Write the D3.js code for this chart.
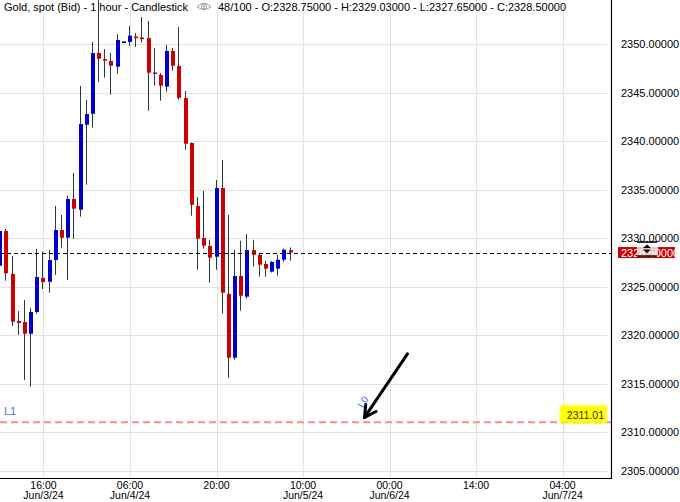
<!DOCTYPE html>
<html><head><meta charset="utf-8">
<script src="https://cdn.jsdelivr.net/npm/d3@7"></script>
<style>
html,body{margin:0;padding:0;background:#fff;}
svg{display:block;font-family:"Liberation Sans",Arial,sans-serif;}
</style></head>
<body><svg id="c" width="680" height="502"></svg>
<script>
// ---- data ----
const startTime = "2024-06-03T09:00";   // first candle (1 hour bars)
const opens  = [2327.14,2330.72,2326.29,2321.44,2321.34,2320.13,2322.37,2325.88,2325.49,2327.73,2330.82,2330.03,2334.02,2332.92,2341.68,2342.81,2349.07,2348.45,2348.25,2347.66,2350.18,2350.21,2350.72,2350.62,2350.62,2347.04,2346.80,2345.60,2349.28,2347.73,2344.43,2339.79,2333.30,2330.00,2329.18,2328.07,2335.15,2324.23,2317.66,2326.08,2323.95,2328.76,2328.25,2327.32,2326.53,2326.84,2327.76,2328.75];
const highs  = [2331.16,2330.93,2328.14,2322.47,2323.61,2322.81,2328.87,2328.59,2328.76,2333.30,2332.37,2334.33,2336.70,2345.67,2344.23,2350.21,2355.00,2349.48,2349.10,2351.03,2350.25,2351.86,2351.13,2352.78,2352.37,2349.59,2347.01,2349.90,2349.59,2351.75,2345.15,2339.85,2334.23,2334.85,2329.82,2335.98,2338.04,2332.37,2328.79,2329.72,2330.41,2329.82,2328.38,2327.66,2327.60,2328.28,2328.90,2329.03];
const lows   = [2326.11,2325.60,2320.93,2320.00,2315.36,2314.67,2322.20,2324.74,2324.36,2326.19,2329.00,2325.67,2329.90,2332.20,2335.49,2341.37,2346.11,2346.53,2344.77,2346.94,2350.12,2349.79,2349.69,2350.14,2343.12,2345.70,2344.15,2345.08,2347.25,2344.26,2339.10,2332.30,2326.73,2328.90,2325.39,2326.73,2322.20,2315.60,2317.45,2322.51,2323.74,2327.04,2326.01,2326.01,2326.45,2326.11,2327.56,2327.65];
const closes = [2330.72,2326.36,2321.37,2321.24,2320.13,2322.37,2325.98,2325.46,2327.73,2330.82,2330.03,2334.02,2333.02,2341.75,2342.78,2349.07,2348.48,2348.28,2347.76,2350.41,2350.18,2350.86,2350.65,2350.55,2347.04,2346.94,2345.70,2349.28,2347.76,2344.46,2339.72,2333.43,2329.93,2329.21,2327.97,2335.15,2324.36,2317.66,2326.08,2324.05,2328.76,2328.28,2327.25,2326.84,2327.53,2327.76,2328.79,2328.50];

const yTicks = [2305,2310,2315,2320,2325,2330,2335,2340,2345,2350];
const xTickTimes = ["2024-06-03T16:00","2024-06-04T06:00","2024-06-04T20:00","2024-06-05T10:00","2024-06-06T00:00","2024-06-06T14:00","2024-06-07T04:00"];
const xTickHour  = ["16:00","06:00","20:00","10:00","00:00","14:00","04:00"];
const xTickDate  = ["Jun/3/24","Jun/4/24","","Jun/5/24","Jun/6/24","","Jun/7/24"];

const levelL1 = 2311.01;
const lastPrice = 2328.50;
const arrowFrom = {t:"2024-06-06T02:54", p:2318.05};
const arrowTo   = {t:"2024-06-05T19:57", p:2311.50};
const header1 = "Gold, spot (Bid) - 1 hour - Candlestick";
const header2 = "48/100 - O:2328.75000 - H:2329.03000 - L:2327.65000 - C:2328.50000";

// ---- layout ----
const plotR = 611, plotB = 478;
const svg = d3.select("#c");
const x = d3.scaleTime()
  .domain([new Date("2024-06-03T08:58"), new Date("2024-06-07T11:50")])
  .range([0, plotR]);
const y = d3.scaleLinear().domain([2310, 2350]).range([432, 44]);
const yPos = v => Math.min(y(v), plotB - 7.5);

const t0 = new Date(startTime);
const candles = opens.map((o,i)=>({t:new Date(t0.getTime()+i*3600e3), o, h:highs[i], l:lows[i], c:closes[i]}));

// grid
const g = svg.append("g");
g.selectAll(".vg").data(xTickTimes).join("line")
  .attr("x1", d=>Math.round(x(new Date(d)))+0.5).attr("x2", d=>Math.round(x(new Date(d)))+0.5)
  .attr("y1",0).attr("y2",plotB).attr("stroke","#e3e3e3").attr("stroke-width",1);
g.selectAll(".hg").data(yTicks).join("line")
  .attr("x1",0).attr("x2",plotR-4)
  .attr("y1", d=>Math.round(yPos(d))+0.5).attr("y2", d=>Math.round(yPos(d))+0.5)
  .attr("stroke","#e3e3e3").attr("stroke-width",1);

// candles
const bw = 4;
const cg = svg.append("g");
candles.forEach(d=>{
  const cx = x(d.t);
  const bx = Math.round(cx - bw/2);
  const col = d.c > d.o ? "#0000cc" : (d.c < d.o ? "#cc0000" : "#000");
  cg.append("line").attr("x1",bx+1.5).attr("x2",bx+1.5)
    .attr("y1",y(d.h)).attr("y2",y(d.l)).attr("stroke","#2f3a3c").attr("stroke-width",1);
  const top = y(Math.max(d.o,d.c)), bot = y(Math.min(d.o,d.c));
  const hgt = Math.max(bot-top, 1.6);
  cg.append("rect").attr("x",bx).attr("width",bw)
    .attr("y", (top+bot)/2 - hgt/2).attr("height",hgt).attr("fill",col);
});

// last price dashed line
svg.append("line").attr("x1",0).attr("x2",plotR)
  .attr("y1",Math.round(y(lastPrice))+0.5).attr("y2",Math.round(y(lastPrice))+0.5)
  .attr("stroke","#000").attr("stroke-width",1).attr("stroke-dasharray","4,3");

// L1 line
svg.append("line").attr("x1",0).attr("x2",plotR)
  .attr("y1",y(levelL1)).attr("y2",y(levelL1))
  .attr("stroke","#ff8a8a").attr("stroke-width",2).attr("stroke-dasharray","7,4");
svg.append("text").attr("x",4).attr("y",y(levelL1)-7).attr("font-size",11)
  .attr("fill","#3f6ff2").text("L1");

// yellow highlight label
const defs = svg.append("defs");
defs.append("filter").attr("id","soft").append("feGaussianBlur").attr("stdDeviation",0.8);
svg.append("rect").attr("x",560).attr("y",y(levelL1)-17).attr("width",47).attr("height",18)
  .attr("fill","#ffff00").attr("filter","url(#soft)");
svg.append("text").attr("x",604).attr("y",y(levelL1)-3.7).attr("text-anchor","end")
  .attr("font-size",10.5).attr("fill","#333").text(levelL1.toFixed(2));

// arrow annotation
const ax1 = x(new Date(arrowFrom.t)), ay1 = y(arrowFrom.p);
const ax2 = x(new Date(arrowTo.t)), ay2 = y(arrowTo.p);
svg.append("line").attr("x1",ax1).attr("y1",ay1).attr("x2",ax2).attr("y2",ay2)
  .attr("stroke","#000").attr("stroke-width",3).attr("stroke-linecap","round");
const ang = Math.atan2(ay1-ay2, ax1-ax2);
[-0.5,0.5].forEach(da=>{
  svg.append("line").attr("x1",ax2).attr("y1",ay2)
    .attr("x2",ax2+13*Math.cos(ang+da)).attr("y2",ay2+13*Math.sin(ang+da))
    .attr("stroke","#000").attr("stroke-width",3).attr("stroke-linecap","round");
});
svg.append("text").attr("transform",`translate(${ax2-2},${ay2-9}) rotate(${ang*180/Math.PI})`)
  .attr("font-size",10).attr("fill","#3f6ff2").text("L0");

// axes lines
svg.append("line").attr("x1",plotR+0.5).attr("x2",plotR+0.5).attr("y1",0).attr("y2",plotB+0.5)
  .attr("stroke","#000").attr("stroke-width",1.2);
svg.append("line").attr("x1",0).attr("x2",plotR+1).attr("y1",plotB+0.5).attr("y2",plotB+0.5)
  .attr("stroke","#000").attr("stroke-width",1.2);

// y labels
svg.append("g").selectAll("text").data(yTicks).join("text")
  .attr("x",621).attr("y",d=>yPos(d)+4).attr("font-size",11).attr("fill","#000")
  .text(d=>d3.format(".5f")(d));

// x labels
const xl = svg.append("g").selectAll("text").data(xTickTimes).join("text")
  .attr("text-anchor","middle").attr("font-size",10.5).attr("fill","#000");
xl.append("tspan").attr("x",d=>x(new Date(d))).attr("y",488.5).text((d,i)=>xTickHour[i]);
xl.append("tspan").attr("x",d=>x(new Date(d))).attr("y",499).text((d,i)=>xTickDate[i]);

// price marker
const py = y(lastPrice);
svg.append("rect").attr("x",618).attr("y",py-5.5).attr("width",57).attr("height",11).attr("fill","#cc0000");
svg.append("text").attr("x",621).attr("y",py+4).attr("font-size",11).attr("fill","#fff").text(lastPrice.toFixed(5));
svg.append("rect").attr("x",637).attr("y",py-10).attr("width",21).attr("height",14).attr("fill","#fff").attr("opacity",0.75);
svg.append("line").attr("x1",637).attr("x2",657).attr("y1",py-10.5).attr("y2",py-10.5).attr("stroke","#000").attr("stroke-width",1.5);
svg.append("line").attr("x1",637).attr("x2",657).attr("y1",py+3.5).attr("y2",py+3.5).attr("stroke","#000").attr("stroke-width",1.5);
svg.append("path").attr("d",`M${643},${py-4.5} L${647},${py-8} L${651},${py-4.5} Z M${643},${py-3} L${647},${py+0.5} L${651},${py-3} Z`).attr("fill","#000");

// header
svg.append("text").attr("x",4).attr("y",10.5).attr("font-size",11).attr("fill","#000").text(header1);
const eye = svg.append("g").attr("transform","translate(204,6.5)");
eye.append("path").attr("d","M-7,0 Q0,-6 7,0 Q0,6 -7,0 Z").attr("fill","none").attr("stroke","#8a8a8a").attr("stroke-width",0.9);
eye.append("circle").attr("r",2.6).attr("fill","none").attr("stroke","#8a8a8a").attr("stroke-width",0.9);
eye.append("circle").attr("r",1).attr("fill","#8a8a8a");
svg.append("text").attr("x",218).attr("y",10.5).attr("font-size",11).attr("fill","#000").text(header2);
</script></body></html>
